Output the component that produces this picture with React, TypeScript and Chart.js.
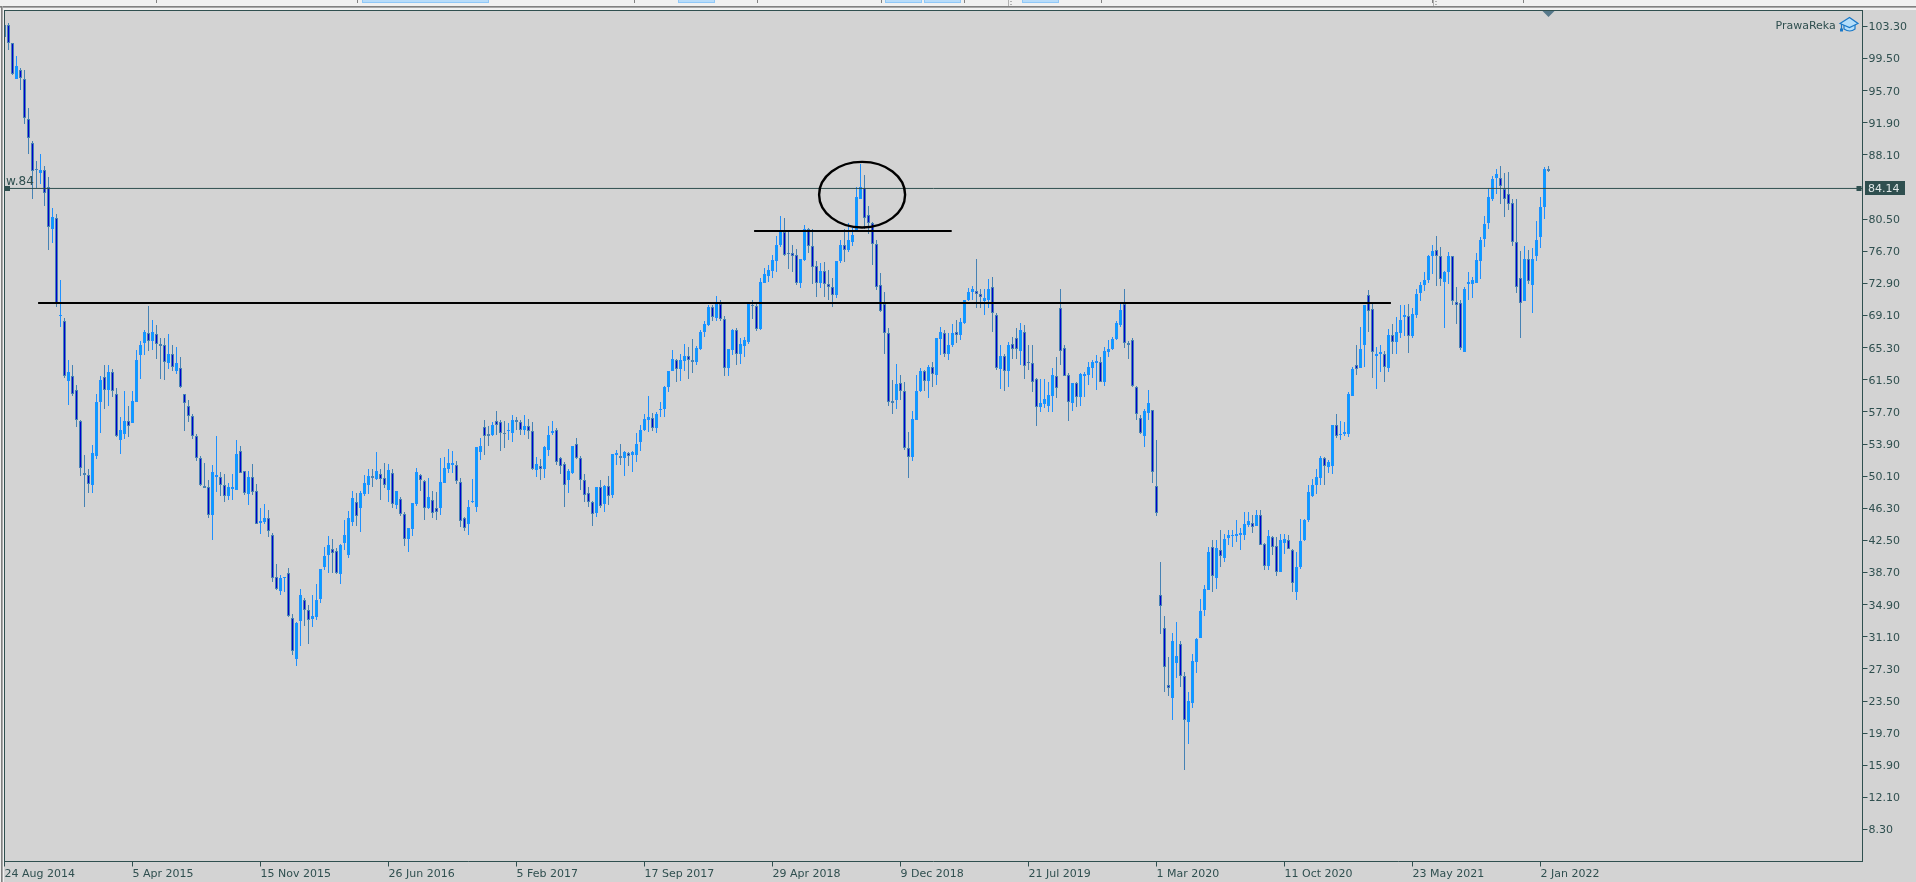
import React, { useEffect, useRef } from "react";
import Chart from "chart.js/auto";

// Weekly candles (one entry per candle, oldest first).
const opens = [
103.5,103.5,101.4,97.1,98.2,97.05,92.4,89.5,86.5,86.0,
86.3,84.3,79.3,80.6,69.0,68.4,61.4,61.9,60.3,56.6,
50.5,50.2,49.0,52.5,58.9,61.8,60.3,62.4,59.8,54.4,
55.1,56.6,56.4,58.9,64.4,65.8,67.0,66.1,66.9,65.75,
65.6,63.5,64.5,62.6,62.9,59.8,58.4,57.2,54.8,52.2,
48.9,48.8,45.5,50.0,50.0,49.1,47.7,48.6,48.5,53.1,
50.7,48.0,50.0,48.3,44.6,44.7,45.2,43.1,38.2,36.5,
38.0,38.6,33.3,28.5,33.0,35.5,34.3,33.2,33.4,35.6,
39.3,40.8,41.5,41.2,38.5,42.2,40.8,44.7,47.1,46.3,
48.0,49.0,50.1,49.8,50.4,49.9,48.5,50.5,46.7,47.4,
45.6,42.7,43.9,46.8,50.2,49.5,46.3,47.3,46.3,46.3,
49.3,50.9,51.4,51.4,49.4,45.2,44.5,47.0,46.4,53.0,
55.95,55.1,55.0,56.6,56.5,55.25,55.4,55.2,56.8,56.5,
55.6,56.0,55.4,50.8,51.3,51.0,53.2,55.2,55.6,52.2,
51.6,49.6,50.5,53.9,52.3,49.6,48.1,47.1,45.8,48.8,
46.8,48.9,47.9,52.6,52.5,52.2,52.9,52.6,52.6,54.1,
55.6,56.8,57.0,55.8,57.9,58.0,60.7,62.5,63.9,62.8,
63.7,64.3,63.8,63.6,65.2,67.1,68.0,70.1,68.8,70.5,
68.7,62.9,65.0,67.4,64.5,65.5,66.0,70.4,70.2,67.5,
73.0,73.8,74.4,75.6,77.5,79.0,76.55,76.5,76.3,73.0,
75.7,79.4,77.3,75.0,72.9,74.4,72.8,72.5,71.5,75.5,
77.5,76.8,77.8,79.2,82.85,84.2,81.0,80.1,77.6,72.7,
70.5,67.0,59.0,59.1,61.1,60.2,53.4,52.4,56.7,60.2,
62.5,61.4,63.0,62.1,66.3,67.0,64.6,65.6,67.1,66.8,
68.2,70.9,71.9,72.0,71.7,70.8,71.0,72.5,69.2,62.8,
64.3,62.6,65.7,66.4,64.9,67.2,63.65,63.45,61.55,58.3,
58.6,58.4,59.6,62.0,70.0,65.3,62.1,58.7,61.1,59.5,
62.0,62.1,62.9,63.5,63.65,61.3,64.8,65.2,66.3,68.0,
70.5,65.8,66.2,60.6,57.0,54.8,57.6,57.9,48.97,36.1,
32.1,25.4,23.9,28.0,30.3,26.5,21.05,23.25,28.15,31.0,
34.3,36.6,41.7,38.1,41.4,40.4,42.8,43.0,43.05,43.2,
43.1,44.3,44.6,44.25,45.5,42.05,39.5,42.95,41.85,38.8,
42.25,42.6,41.35,36.45,39.4,42.55,44.9,47.75,49.05,49.9,
52.2,51.2,51.35,56.2,55.0,55.05,55.1,59.6,63.3,62.95,
65.65,71.5,69.85,64.35,64.55,64.55,62.95,66.75,66.0,67.05,
68.95,69.0,66.7,69.2,71.8,72.75,73.35,76.15,76.85,76.1,
73.1,74.3,76.1,70.75,70.6,64.85,72.85,72.85,73.0,75.6,
78.2,80.0,82.9,85.4,85.4,84.05,83.45,82.4,77.85,73.5,
70.85,75.85,72.7,76.15,78.45,82.0,86.4,
];
const closes = [
102.1,101.3,97.7,98.6,97.2,92.5,90.15,86.25,86.3,86.3,
83.6,79.6,80.8,70.6,69.2,62.0,62.4,59.8,56.8,51.1,
50.2,49.2,52.9,58.9,61.5,60.3,62.4,60.2,54.9,55.6,
56.6,56.0,59.0,63.9,65.6,67.2,66.1,67.1,65.7,65.55,
63.6,64.5,63.0,63.5,60.7,58.8,57.2,54.9,52.2,49.1,
48.7,45.5,50.6,50.2,49.0,47.8,48.8,48.8,52.7,50.5,
48.1,50.0,48.2,44.5,44.8,45.2,43.6,38.0,36.7,38.1,
38.2,33.6,29.4,32.7,36.0,34.3,33.1,33.6,35.5,39.1,
40.6,41.9,41.0,38.7,42.0,43.1,45.1,47.5,45.4,48.1,
49.3,50.1,49.9,50.7,49.8,49.0,50.8,46.8,48.3,45.6,
42.7,44.0,46.9,50.6,49.6,46.3,47.6,45.8,45.9,49.4,
51.1,51.7,51.7,49.5,44.8,44.0,46.4,47.2,53.5,53.7,
54.8,54.9,56.1,56.2,55.2,55.05,55.6,56.7,56.5,55.6,
56.0,55.4,51.0,51.5,50.9,53.5,55.0,55.5,51.8,51.3,
49.1,50.7,53.7,52.2,49.7,47.9,47.1,45.6,48.8,46.6,
48.9,47.8,52.7,52.8,52.2,53.0,52.5,53.0,53.9,55.6,
56.9,57.1,55.8,57.5,58.1,60.6,62.5,64.0,62.8,63.9,
64.3,63.8,63.6,65.3,67.2,68.1,70.1,68.9,70.5,68.7,
62.9,65.1,67.4,64.6,65.7,66.2,70.5,70.2,67.5,73.1,
74.0,74.5,75.7,77.5,79.1,76.3,76.35,76.2,73.0,75.75,
79.4,77.3,74.9,73.0,74.4,72.8,72.5,71.5,75.6,77.4,
76.8,78.0,78.6,83.1,84.3,80.6,80.1,77.6,72.5,69.6,
67.0,58.9,58.7,61.0,60.2,53.4,52.4,56.9,60.2,62.5,
61.4,63.05,62.15,66.4,67.1,64.6,65.6,67.0,66.8,68.3,
70.9,71.85,72.2,71.7,71.25,71.2,72.3,69.4,62.9,64.3,
62.6,65.6,65.2,65.1,67.35,63.1,63.45,61.3,58.3,58.7,
59.2,59.7,62.1,60.5,64.9,62.0,58.9,61.1,59.5,62.15,
62.15,63.0,63.65,63.7,61.3,64.9,65.2,66.3,68.2,69.8,
65.8,65.6,60.8,57.5,55.2,57.8,58.7,50.55,45.8,34.8,
27.5,25.0,30.55,28.8,26.5,21.2,23.45,28.2,30.8,34.15,
36.7,41.1,38.3,41.6,40.6,42.7,43.2,43.15,43.3,43.4,
44.4,44.75,44.1,45.5,41.95,39.5,43.0,41.75,38.8,42.55,
42.65,41.5,37.5,39.3,42.4,44.9,48.2,49.05,49.95,52.3,
51.35,51.8,56.2,54.8,55.1,55.3,59.8,62.75,62.75,65.2,
70.35,69.7,64.85,64.55,64.8,63.05,66.75,66.0,67.15,68.55,
69.15,66.7,69.3,71.7,72.7,73.3,76.15,76.75,76.1,73.45,
74.3,76.1,70.85,70.3,65.3,72.3,73.05,73.3,75.65,78.1,
79.95,83.1,85.2,85.8,84.45,82.95,82.35,77.75,72.5,70.55,
75.85,73.25,75.8,78.1,81.9,86.5,86.2,
];
const highs = [
103.5,103.75,101.4,99.8,98.4,98.15,93.6,89.7,87.4,88.2,
86.8,85.5,81.8,81.1,73.3,68.8,63.9,63.3,60.9,56.7,
52.6,50.9,53.8,59.8,61.9,63.2,63.3,62.8,60.5,57.1,
60.2,58.4,60.2,65.0,66.1,67.4,70.2,68.6,68.0,66.4,
66.4,66.9,65.6,65.4,64.2,59.8,59.1,57.5,55.1,52.5,
51.7,49.6,51.4,54.9,50.6,50.4,49.3,50.3,54.4,53.7,
50.7,50.7,51.5,49.2,46.3,46.8,46.1,43.4,39.7,38.4,
38.2,39.2,33.8,32.8,36.8,35.7,34.9,36.1,37.3,39.1,
41.7,43.0,42.7,41.6,42.1,44.9,46.0,48.3,48.1,48.3,
50.2,50.9,51.0,53.0,51.0,51.7,51.5,50.9,48.4,47.6,
45.9,44.0,46.9,51.1,50.4,49.7,49.9,48.4,48.2,52.3,
52.4,53.3,53.1,51.9,49.9,45.3,47.3,49.8,53.5,54.6,
56.7,56.0,56.5,57.8,56.7,56.6,56.4,57.3,57.1,56.7,
57.3,56.9,56.5,52.4,52.1,53.7,56.0,56.6,55.8,52.4,
51.8,50.9,53.7,54.6,52.5,50.4,48.8,47.2,48.8,49.7,
49.0,50.1,52.7,53.2,53.9,53.1,53.0,53.1,55.2,56.1,
57.5,59.6,57.6,57.7,58.9,60.8,62.5,65.0,64.0,64.5,
65.7,65.4,66.3,65.5,67.4,68.5,70.3,70.3,71.4,70.9,
69.0,65.1,67.5,67.6,66.4,66.6,70.5,71.0,70.5,73.6,
74.7,75.1,76.3,78.5,80.9,80.7,79.2,77.5,77.0,75.75,
79.8,79.5,79.4,75.5,75.3,75.4,74.5,73.5,75.6,78.0,
79.4,80.1,79.5,84.3,87.0,85.7,82.1,80.2,78.0,74.1,
71.85,67.6,61.5,63.4,62.1,61.2,55.3,57.8,62.1,62.9,
62.7,63.25,63.6,66.4,67.8,67.4,67.0,68.1,68.6,68.8,
71.0,72.4,72.6,75.8,72.2,72.3,73.4,73.7,69.4,65.6,
64.6,66.0,66.6,67.6,68.2,68.0,65.6,65.6,61.7,61.55,
61.55,61.2,62.85,64.2,72.2,65.6,62.3,61.1,61.3,62.3,
62.45,63.6,63.8,64.4,64.2,65.4,66.2,66.6,68.45,70.5,
72.3,66.1,66.4,60.8,57.3,58.1,60.3,57.9,54.4,39.9,
33.5,28.7,31.5,32.9,30.6,26.9,24.6,29.1,30.9,35.6,
37.2,41.7,42.6,42.5,43.7,43.3,43.7,43.7,44.9,44.0,
45.9,45.9,45.5,46.1,46.1,42.15,43.7,43.05,42.95,43.25,
43.25,43.15,41.45,41.15,45.0,45.0,49.05,49.8,51.0,52.5,
52.4,52.0,56.2,57.45,56.6,56.5,60.05,63.0,65.6,67.75,
70.35,72.1,70.5,65.35,65.6,64.9,67.5,68.1,68.95,70.35,
70.35,70.45,69.95,72.3,73.1,74.3,76.25,77.45,78.5,77.25,
74.4,76.6,76.2,72.45,70.95,72.5,74.3,73.65,76.5,78.35,
80.9,84.15,85.6,86.45,86.8,86.0,86.1,82.85,82.85,76.75,
77.3,76.85,77.1,80.3,83.1,86.65,86.8,
];
const lows = [
102.1,100.5,97.6,97.1,95.8,91.8,88.2,82.9,84.15,84.7,
82.1,76.8,77.7,70.1,67.8,61.7,58.5,59.6,55.9,50.1,
46.4,48.1,48.1,52.1,55.2,58.1,58.4,59.5,54.7,52.7,
54.5,54.7,56.4,58.9,61.6,64.4,64.9,65.0,64.0,61.6,
61.5,62.8,62.6,62.2,60.5,55.5,56.5,54.5,51.9,48.9,
48.7,45.2,42.5,48.2,47.8,47.1,47.3,47.3,48.5,50.5,
47.9,46.7,47.9,44.4,43.3,44.4,42.9,37.6,36.6,36.1,
36.4,33.4,29.0,27.6,30.0,32.4,30.3,32.2,33.1,35.1,
39.0,38.7,38.7,38.5,37.3,41.4,40.4,44.2,44.2,43.5,
47.8,48.0,48.8,49.7,47.3,48.7,47.1,46.3,46.2,45.4,
41.8,41.1,43.0,46.6,48.3,44.9,46.2,45.1,44.9,45.5,
49.3,50.5,50.5,49.2,44.1,43.6,43.1,46.9,45.9,52.0,
52.6,53.7,54.8,55.0,53.1,53.4,54.4,54.2,55.6,55.0,
55.0,54.5,50.8,50.0,49.6,49.9,52.5,55.0,51.4,50.4,
46.4,48.1,50.4,52.1,48.5,47.1,46.4,44.2,45.3,46.3,
45.9,46.7,47.5,51.4,51.4,50.1,51.3,50.6,51.8,53.1,
55.4,55.3,55.4,55.2,57.1,57.1,60.0,62.5,61.2,61.4,
62.5,61.6,62.3,63.3,65.0,66.6,67.9,68.4,68.5,68.4,
62.0,62.0,64.4,63.2,63.4,64.2,65.7,68.7,67.3,67.4,
72.9,73.1,73.6,74.3,77.2,76.1,74.6,74.3,72.7,72.4,
75.6,76.5,72.8,71.3,72.4,71.3,70.9,70.1,71.2,75.3,
75.4,76.6,77.3,79.1,82.85,79.4,78.8,75.1,72.1,69.5,
64.5,58.4,57.45,58.0,59.1,53.2,49.9,51.9,56.7,60.1,
60.2,59.4,60.6,60.9,64.4,64.15,63.8,65.4,65.9,66.2,
68.1,70.8,70.9,70.0,70.0,69.2,70.0,67.1,62.7,60.4,
60.2,60.7,64.0,64.0,63.3,61.55,62.7,60.1,56.0,57.7,
58.2,57.7,57.7,59.3,63.2,61.9,56.65,57.85,58.3,58.4,
59.5,60.9,61.7,60.3,61.2,60.8,64.2,65.0,66.2,67.7,
65.3,64.0,60.6,56.8,55.05,53.6,56.7,49.3,45.4,31.4,
24.6,24.1,21.25,26.2,25.2,15.3,18.4,22.7,26.85,30.95,
33.5,36.6,36.4,36.8,39.3,39.9,42.0,41.75,42.35,41.4,
42.55,44.05,43.4,44.25,41.95,39.0,39.0,40.8,38.3,38.8,
40.95,41.45,36.45,35.4,39.1,42.45,44.7,47.65,48.0,49.05,
49.05,50.5,50.4,54.65,54.4,54.8,54.7,59.6,62.1,62.95,
63.05,67.1,61.7,60.4,62.4,61.25,62.4,64.55,64.55,66.45,
66.7,64.7,66.4,68.85,70.85,72.0,73.0,74.0,72.6,72.6,
67.65,72.8,70.35,68.1,65.0,64.85,70.95,71.2,73.0,73.45,
77.25,79.35,82.65,83.5,82.3,80.8,81.6,77.35,71.8,66.4,
70.85,72.85,69.4,75.6,77.1,80.5,86.1,
];

const dateLabels = [
  "24 Aug 2014", "5 Apr 2015", "15 Nov 2015", "26 Jun 2016", "5 Feb 2017", "17 Sep 2017",
  "29 Apr 2018", "9 Dec 2018", "21 Jul 2019", "1 Mar 2020", "11 Oct 2020", "23 May 2021", "2 Jan 2022",
];
const candlesPerDateLabel = 32;
const priceTicks = [
  8.3, 12.1, 15.9, 19.7, 23.5, 27.3, 31.1, 34.9, 38.7, 42.5, 46.3, 50.1, 53.9, 57.7, 61.5,
  65.3, 69.1, 72.9, 76.7, 80.5, 88.1, 91.9, 95.7, 99.5, 103.3,
];
const currentPrice = 84.14;
const marketName = "PrawaReka";
const lineLabel = "w.84";
const longLevel = { price: 70.59, from: 8.4, to: 346.6 };
const shortLevel = { price: 79.106, from: 187.4, to: 236.8 };
const circled = { index: 214.4, price: 83.4, indexRadius: 10.75, priceRadius: 3.88 };

const BG = "#d3d3d3";
const AXIS = "#2f4f4f";
const FONT = '"DejaVu Sans", sans-serif';
const BULL_BODY = "#00a2ff";
const BULL_LINE = "#1e90ff";
const BEAR_BODY = "#0000cd";
const BEAR_LINE = "#4682b4";
const isBull = (i: number) => closes[i] >= opens[i];

const tabs = [[362, 127], [678, 37], [885, 37], [924, 37], [1022, 37]];
const tabSeparators = [156, 357, 634, 757, 881, 964, 1101, 1432, 1523];
const tabGrips = [1008, 1433];

const chromePlugin = {
  id: "chrome",
  beforeDraw(chart: any) {
    const c = chart.ctx;
    c.save();
    c.fillStyle = BG;
    c.fillRect(0, 0, 1916, 882);
    c.fillStyle = "#f0f0f0";
    c.fillRect(0, 0, 1916, 10);
    c.fillRect(0, 0, 4, 882);
    c.fillStyle = "#808080";
    c.fillRect(0, 6, 1916, 1);
    c.fillStyle = "#a8a8a8";
    c.fillRect(0, 7, 1916, 1);
    c.fillStyle = "#808080";
    c.fillRect(1, 6, 1, 876);
    c.fillStyle = "#a8a8a8";
    c.fillRect(2, 6, 1, 876);
    for (const [x, w] of tabs) {
      c.fillStyle = "#b8dcfa";
      c.fillRect(x, 0, w, 2);
      c.fillStyle = "#90c8f8";
      c.fillRect(x, 2, w, 1);
      c.fillRect(x, 0, 1, 3);
      c.fillRect(x + w - 1, 0, 1, 3);
    }
    c.fillStyle = "#808080";
    for (const x of tabSeparators) c.fillRect(x, 0, 1, 3);
    c.fillStyle = "#b0b0b0";
    for (const x of tabGrips) {
      c.fillRect(x, 0, 1, 6);
      c.fillRect(x + 2, 1, 2, 1);
      c.fillRect(x + 2, 4, 2, 1);
    }
    c.restore();
  },
  beforeDatasetDraw(_chart: any, args: any) {
    if (args.meta.type !== "bar") return;
    for (const el of args.meta.data) {
      el.y = Math.round(el.y);
      el.base = Math.round(el.base);
      if (el.y === el.base) el.base = el.y + 1;
    }
  },
  afterDatasetsDraw(chart: any) {
    const c = chart.ctx;
    const x = chart.scales.x;
    const y = chart.scales.y;
    const area = chart.chartArea;
    c.save();
    // Circled peak
    c.beginPath();
    c.strokeStyle = "#000000";
    c.lineWidth = 2.4;
    c.ellipse(
      x.getPixelForValue(circled.index),
      y.getPixelForValue(circled.price),
      x.getPixelForValue(circled.index + circled.indexRadius) - x.getPixelForValue(circled.index),
      y.getPixelForValue(circled.price) - y.getPixelForValue(circled.price + circled.priceRadius),
      0, 0, Math.PI * 2,
    );
    c.stroke();
    // Frame
    c.fillStyle = AXIS;
    c.fillRect(4, 10, 1859, 1);
    c.fillRect(4, 10, 1, 852);
    // Shift marker
    const sx = x.getPixelForValue(386);
    c.fillStyle = "#56788a";
    c.beginPath();
    c.moveTo(sx - 6, 11);
    c.lineTo(sx + 6, 11);
    c.lineTo(sx, 17);
    c.closePath();
    c.fill();
    // Current-price line ends and tag
    const py = Math.round(y.getPixelForValue(currentPrice) - 0.5);
    c.fillStyle = AXIS;
    c.fillRect(5, py - 2, 5, 5);
    c.fillRect(area.right - 6, py - 2, 5, 5);
    c.fillRect(1865, py - 7, 40, 14);
    c.font = `11px ${FONT}`;
    c.textBaseline = "alphabetic";
    c.textAlign = "left";
    c.fillStyle = "#dfe6e6";
    c.fillText(currentPrice.toFixed(2), 1868, py + 4);
    c.fillStyle = AXIS;
    c.font = `12px ${FONT}`;
    c.fillText(lineLabel, 6, py - 3);
    c.font = `11px ${FONT}`;
    c.fillText(marketName, 1775.5, 29);
    // Graduation-cap mark
    c.lineWidth = 1.2;
    c.strokeStyle = "#1878c8";
    c.fillStyle = "#b4defa";
    c.beginPath();
    c.moveTo(1844, 22);
    c.lineTo(1844, 29);
    c.quadraticCurveTo(1850, 33, 1855, 29);
    c.lineTo(1855, 22);
    c.closePath();
    c.fill();
    c.stroke();
    c.beginPath();
    c.moveTo(1840, 23.5);
    c.lineTo(1849.5, 17.5);
    c.lineTo(1858, 23.5);
    c.lineTo(1849.5, 27.5);
    c.closePath();
    c.fill();
    c.stroke();
    c.beginPath();
    c.moveTo(1841.5, 24);
    c.lineTo(1841.5, 29);
    c.stroke();
    c.fillStyle = "#1878c8";
    c.fillRect(1840, 28.5, 3, 3);
    c.restore();
  },
};

const fixedSize = (prop: "width" | "height", size: number) => (scale: any) => {
  scale[prop] = size;
  scale.paddingLeft = 0;
  scale.paddingRight = 0;
  scale.paddingTop = 0;
  scale.paddingBottom = 0;
};

export default function App() {
  const ref = useRef<HTMLCanvasElement>(null);
  useEffect(() => {
    document.body.style.margin = "0";
    const indexes = opens.map((_, i) => i);
    const chart = new Chart(ref.current!, {
      type: "bar",
      plugins: [chromePlugin],
      data: {
        datasets: [
          {
            type: "line",
            data: [{ x: 0, y: currentPrice }, { x: 464.5, y: currentPrice }],
            borderColor: AXIS, borderWidth: 1, pointRadius: 0, order: 0,
          },
          {
            type: "line",
            data: [{ x: longLevel.from, y: longLevel.price }, { x: longLevel.to, y: longLevel.price }],
            borderColor: "#000000", borderWidth: 2, pointRadius: 0, order: 0,
          },
          {
            type: "line",
            data: [{ x: shortLevel.from, y: shortLevel.price }, { x: shortLevel.to, y: shortLevel.price }],
            borderColor: "#000000", borderWidth: 2, pointRadius: 0, order: 0,
          },
          {
            data: indexes.map((i) => ({ x: i, y: [lows[i], highs[i]] })),
            backgroundColor: indexes.map((i) => (isBull(i) ? BULL_LINE : BEAR_LINE)),
            barThickness: 1, borderWidth: 0, inflateAmount: 0, order: 2,
          },
          {
            data: indexes.map((i) => ({ x: i, y: [opens[i], closes[i]] })),
            backgroundColor: indexes.map((i) => (isBull(i) ? BULL_BODY : BEAR_BODY)),
            borderColor: indexes.map((i) => (isBull(i) ? BULL_LINE : BEAR_LINE)),
            barThickness: 3, borderWidth: 1, borderSkipped: false, inflateAmount: 0, order: 1,
          },
        ],
      } as any,
      options: {
        animation: false,
        responsive: false,
        devicePixelRatio: 1,
        layout: { padding: { left: 4.5, top: 10.5, right: 0, bottom: 0 } },
        plugins: { legend: { display: false }, tooltip: { enabled: false } },
        events: [],
        datasets: { bar: { grouped: false } },
        scales: {
          x: {
            type: "linear",
            min: 0,
            max: 464.5,
            offset: false,
            grid: { display: true, offset: false, drawOnChartArea: false, drawTicks: true, tickLength: 5, tickColor: AXIS, tickWidth: 1 },
            border: { display: true, color: AXIS, width: 1 },
            afterFit: fixedSize("height", 20.5),
            afterBuildTicks: (axis: any) => {
              axis.ticks = dateLabels.map((_, i) => ({ value: i * candlesPerDateLabel }));
            },
            ticks: {
              autoSkip: false, maxRotation: 0, minRotation: 0, align: "start", padding: 1,
              color: AXIS, font: { family: FONT, size: 11 },
              callback: (v: any) => dateLabels[Math.round(Number(v) / candlesPerDateLabel)],
            },
          },
          y: {
            type: "linear",
            position: "right",
            min: 4.514,
            max: 105.193,
            grid: { display: true, drawOnChartArea: false, drawTicks: true, tickLength: 5, tickColor: AXIS, tickWidth: 1 },
            border: { display: true, color: AXIS, width: 1 },
            afterFit: fixedSize("width", 53.5),
            afterBuildTicks: (axis: any) => {
              axis.ticks = priceTicks.map((value) => ({ value }));
            },
            ticks: {
              autoSkip: false, padding: 1, labelOffset: 1, color: AXIS, font: { family: FONT, size: 11 },
              callback: (v: any) => Number(v).toFixed(2),
            },
          },
        },
      } as any,
    });
    return () => chart.destroy();
  }, []);
  return <canvas ref={ref} width={1916} height={882} style={{ display: "block", width: 1916, height: 882 }} />;
}
